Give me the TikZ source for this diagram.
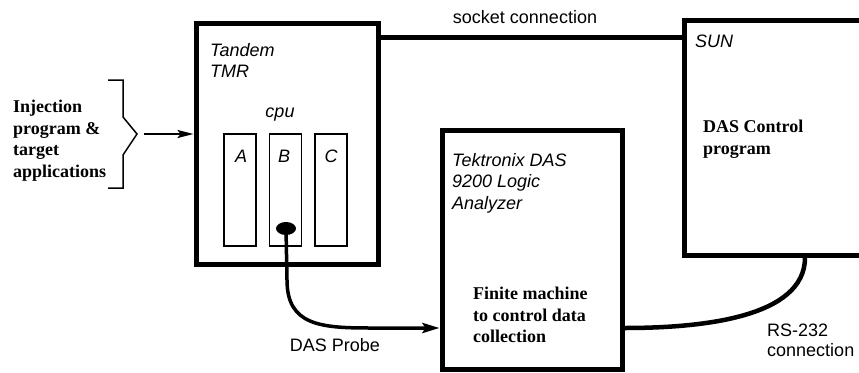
\documentclass[tikz,border=0pt]{standalone}
\usepackage{fontspec}
\setmainfont{Liberation Sans}
\newfontfamily\timesbf{Liberation Serif}
\usepackage{tikz}
\usetikzlibrary{arrows.meta,shapes.geometric}

\newcommand\lblsize{\fontsize{18pt}{21.5pt}\selectfont}
\tikzset{
  box/.style={draw, line width=5pt, inner sep=0pt},
  slot/.style={draw, line width=1.4pt, minimum width=32pt, minimum height=112pt, inner sep=0pt},
  wire/.style={line width=5pt},
  lbl/.style={inner sep=0pt, align=left, font=\lblsize\itshape},
  plainlbl/.style={inner sep=0pt, align=left, font=\lblsize},
  boldlbl/.style={inner sep=0pt, align=left, font=\lblsize\timesbf\bfseries},
}

\begin{document}
\begin{tikzpicture}[x=1pt, y=-1pt]
        \useasboundingbox (0,0) rectangle (859,372);
        % the three machines
        \node[box, minimum width=182pt, minimum height=241pt] (tandem) at (287,143.5) {};
        \node[box, minimum width=242pt, minimum height=235pt] (sun) at (805,137.5) {};
        \node[box, minimum width=180pt, minimum height=239pt] (tek) at (532,249.5) {};
        % cpu slots
        \node[slot] (slotA) at (240,190) {};
        \node[slot] (slotB) at (285.5,190) {};
        \node[slot] (slotC) at (331,190) {};
        \node[lbl] (labA) at (241,156) {A};
        \node[lbl] (labB) at (284,156) {B};
        \node[lbl] (labC) at (331,156) {C};
        \node[lbl] (cpu) at (280,115) {cpu};
        \node[fill, ellipse, minimum width=20pt, minimum height=13pt, inner sep=0pt] (probe) at (286,228.5) {};
        % labels
        \node[lbl, anchor=north west] (tandemtxt) at (210,43) {Tandem\\TMR};
        \node[lbl, anchor=north west] (suntxt) at (695,35) {SUN};
        \node[boldlbl, anchor=north west] (dasctl) at (703,120) {DAS Control\\program};
        \node[lbl, anchor=north west] (tektxt) at (452,153) {Tektronix DAS\\9200 Logic\\Analyzer};
        \node[boldlbl, anchor=north west] (fsm) at (473,287) {Finite machine\\to control data\\collection};
        \node[boldlbl, anchor=north west] (inject) at (13,100) {Injection\\program \&\\target\\applications};
        \node[plainlbl, anchor=north] (socket) at (525,10) {socket connection};
        \node[plainlbl, anchor=north] (probetxt) at (335,338) {DAS Probe};
        \node[plainlbl, anchor=north west, font=\fontsize{18pt}{20pt}\selectfont] (rstxt) at (767,324) {RS-232\\connection};
        % brace and input arrow
        \draw[line width=1.5pt] (108,80) -- (123,80) -- (123,117) -- (137,134) -- (123,155) -- (123,188) -- (108,188);
        \coordinate (tip) at (137,134);
        \draw[line width=2pt, -{Stealth[length=16pt,width=8pt,inset=3pt]}] ([xshift=7pt]tip) -- (tip -| tandem.west);
        % connections
        \draw[wire] ([yshift=-17pt]tandem.north east) -- ([yshift=-17pt]tandem.north east -| sun.west);
        \draw[line width=3.5pt, -{Stealth[length=17pt,width=10pt,inset=3pt]}] (probe.center) -- (287,280)
            .. controls (287,325) and (320,328) .. (370,328) -- ([yshift=-78.5pt]tek.west);
        \draw[line width=4.5pt] (sun.south) .. controls (805,318) and (700,328) .. ([yshift=-78.5pt]tek.east);
    \end{tikzpicture}
\end{document}
